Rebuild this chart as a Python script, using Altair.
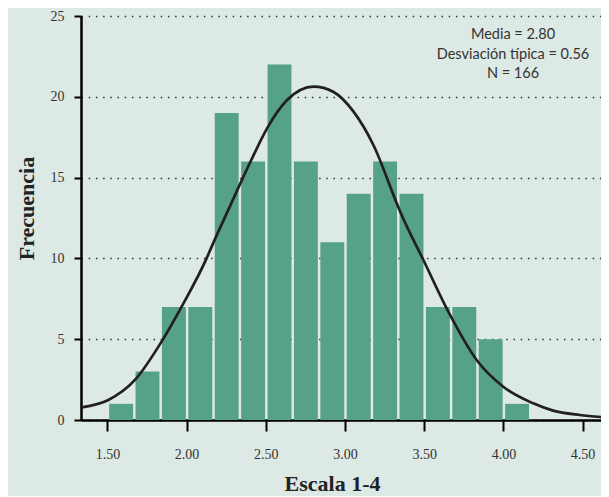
import altair as alt
import pandas as pd

# Histogram bins (width 1/6) and counts
bin_start = [1.5, 1.6667, 1.8333, 2.0, 2.1667, 2.3333, 2.5, 2.6667,
             2.8333, 3.0, 3.1667, 3.3333, 3.5, 3.6667, 3.8333, 4.0]
bin_end = [1.6667, 1.8333, 2.0, 2.1667, 2.3333, 2.5, 2.6667, 2.8333,
           3.0, 3.1667, 3.3333, 3.5, 3.6667, 3.8333, 4.0, 4.1667]
counts = [1, 3, 7, 7, 19, 16, 22, 16, 11, 14, 16, 14, 7, 7, 5, 1]

# Fitted normal curve
curve_x = [1.338, 1.506, 1.674, 1.842, 1.968, 2.126, 2.157, 2.277, 2.403,
           2.508, 2.634, 2.802, 2.928, 3.054, 3.18, 3.327, 3.348, 3.495,
           3.663, 3.831, 3.999, 4.188, 4.314, 4.482, 4.65]
curve_y = [0.78, 1.24, 2.48, 4.85, 7.0, 10.0, 10.7, 13.3, 15.98,
           18.05, 19.8, 20.63, 20.3, 19.08, 17.0, 13.4, 12.9, 9.9,
           6.5, 3.71, 2.06, 1.03, 0.58, 0.31, 0.16]

x_ticks = [1.5, 2.0, 2.5, 3.0, 3.5, 4.0, 4.5]
y_ticks = [0, 5, 10, 15, 20, 25]
x_domain = [1.3333, 4.6162]
y_domain = [0, 25]

stats_text = "Media = 2.80\nDesviación típica = 0.56\nN = 166"

bars_df = pd.DataFrame({"start": bin_start, "end": bin_end, "count": counts})
curve_df = pd.DataFrame({"x": curve_x, "y": curve_y})

SERIF = "Liberation Serif"

x_scale = alt.Scale(domain=x_domain, nice=False, zero=False)
y_scale = alt.Scale(domain=y_domain, nice=False)

x_axis = alt.Axis(
    values=x_ticks, format=".2f", grid=False, title="Escala 1-4",
    tickSize=11, tickWidth=2, tickColor="black",
    domainColor="black", domainWidth=2.5,
    labelFont=SERIF, labelFontSize=14, labelColor="#333333", labelPadding=16,
    titleFont=SERIF, titleFontSize=22, titleFontWeight="bold", titleColor="#222222",
    titleX=251, titleY=70, titleBaseline="alphabetic", titleAnchor="middle",
    labelFlush=False,
)
y_axis = alt.Axis(
    values=y_ticks, grid=True, title="Frecuencia",
    gridColor="#333333", gridDash=[1.5, 5.7], gridWidth=1.5,
    tickSize=7, tickWidth=2, tickColor="black",
    domainColor="black", domainWidth=2.5,
    labelFont=SERIF, labelFontSize=14, labelColor="#333333", labelPadding=10,
    titleFont=SERIF, titleFontSize=22, titleFontWeight="bold", titleColor="#222222",
    titleX=-48, titleY=192, titleBaseline="alphabetic", titleAngle=-90,
)

bars = alt.Chart(bars_df).mark_bar(color="#55a287", binSpacing=2.5).encode(
    x=alt.X("start:Q", bin="binned", scale=x_scale, axis=x_axis),
    x2="end:Q",
    y=alt.Y("count:Q", scale=y_scale, axis=y_axis),
)

curve = alt.Chart(curve_df).mark_line(
    color="#231f20", strokeWidth=2.7, interpolate="monotone", clip=True
).encode(
    x=alt.X("x:Q", scale=x_scale),
    y=alt.Y("y:Q", scale=y_scale),
)

stats = alt.Chart(pd.DataFrame({"t": [stats_text]})).mark_text(
    font="Lato", fontSize=14.5, color="#333333", align="center",
    baseline="top", lineBreak="\n", lineHeight=19.7,
).encode(
    x=alt.value(432), y=alt.value(12), text="t:N"
)

chart = alt.layer(bars, curve, stats).properties(
    width=520, height=404,
    background="#dce9e4",
    padding={"left": 73, "top": 8, "right": 0, "bottom": 76},
    autosize=alt.AutoSizeParams(type="none"),
).configure_view(stroke=None)

chart.save("out.html", embed_options={"renderer": "svg", "actions": False})
